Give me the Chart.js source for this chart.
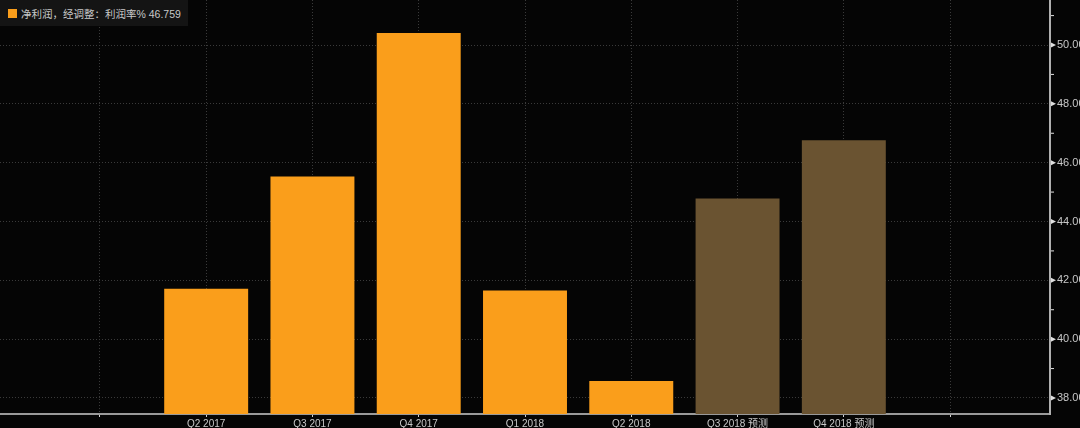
<!DOCTYPE html>
<html>
<head>
<meta charset="utf-8">
<script src="https://cdn.jsdelivr.net/npm/chart.js@4.4.1/dist/chart.umd.min.js"></script>
<style>
  html, body { margin: 0; padding: 0; background: #050505; }
  #wrap { position: relative; width: 1080px; height: 428px; }
  #legendBox {
    position: absolute; left: 0; top: 0; height: 26px; padding: 0 7px 0 8px;
    background: #141414; color: #c8c8c8; font: 10.5px 'Liberation Sans', 'Noto Sans CJK SC', sans-serif;
    display: flex; align-items: center; gap: 4px;
  }
  #legendBox .sw { width: 9px; height: 9px; background: #fa9e1b; display: inline-block; }
</style>
</head>
<body>
<div id="wrap">
  <canvas id="marginChart" width="1080" height="428"></canvas>
  <div id="legendBox"><span class="sw"></span><span id="legendText"></span></div>
</div>
<script>
// 数据
const categories = ['Q2 2017', 'Q3 2017', 'Q4 2017', 'Q1 2018', 'Q2 2018', 'Q3 2018 预测', 'Q4 2018 预测'];
const margins = [41.71, 45.53, 50.41, 41.65, 38.58, 44.78, 46.759];
const isForecast = [false, false, false, false, false, true, true];
const yTicks = [38, 40, 42, 44, 46, 48, 50];
const seriesLabel = '净利润，经调整：利润率%';
const leadingSlots = 2; // 两个空位在第一个季度之前

document.getElementById('legendText').textContent = seriesLabel + ' ' + margins[margins.length - 1];

const fontFamily = "'Liberation Sans', 'Noto Sans CJK SC', sans-serif";

// 右侧刻度的小三角和次刻度
const axisMarks = {
    id: 'axisMarks',
    afterDraw(chart) {
        const ctx = chart.ctx;
        const y = chart.scales.y;
        const x0 = chart.chartArea.right;
        ctx.save();
        ctx.fillStyle = '#e0e0e0';
        y.ticks.forEach(t => {
            const py = y.getPixelForValue(t.value);
            if (yTicks.includes(t.value)) {
                ctx.beginPath();
                ctx.moveTo(x0 + 1, py - 2.5);
                ctx.lineTo(x0 + 6, py);
                ctx.lineTo(x0 + 1, py + 2.5);
                ctx.closePath();
                ctx.fill();
            } else {
                ctx.fillRect(x0 + 1, py - 0.5, 3, 1);
            }
        });
        ctx.restore();
    }
};

new Chart(document.getElementById('marginChart').getContext('2d'), {
    type: 'bar',
    data: {
        datasets: [{
            label: seriesLabel,
            data: categories.map((c, i) => ({ x: i + leadingSlots, y: margins[i] })),
            backgroundColor: ctx => isForecast[ctx.dataIndex] ? '#6a5331' : '#fa9e1b',
            borderWidth: 0,
            barPercentage: 0.79,
            categoryPercentage: 1
        }]
    },
    options: {
        responsive: false,
        animation: false,
        layout: { padding: 0 },
        plugins: {
            legend: { display: false },
            tooltip: { enabled: false }
        },
        scales: {
            x: {
                type: 'linear',
                offset: false,
                min: 0.06,
                max: 9.94,
                afterFit: s => { s.height = 14; s.paddingLeft = 0; s.paddingRight = 0; },
                ticks: {
                    stepSize: 1,
                    includeBounds: false,
                    autoSkip: false,
                    maxRotation: 0,
                    padding: 1,
                    color: '#c8c8c8',
                    font: { family: fontFamily, size: 10 },
                    callback: v => categories[v - leadingSlots] || ''
                },
                grid: {
                    offset: false,
                    color: '#3a3a3a',
                    lineWidth: 1,
                    drawTicks: true,
                    tickLength: 3,
                    tickColor: '#d0d0d0'
                },
                border: { display: true, color: '#9a9a9a', width: 2, dash: [1, 2] }
            },
            y: {
                position: 'right',
                min: 37.455,
                max: 51.53,
                afterFit: s => { s.width = 30; s.paddingTop = 0; s.paddingBottom = 0; },
                ticks: {
                    stepSize: 1,
                    includeBounds: false,
                    padding: 7,
                    color: '#c8c8c8',
                    font: { family: fontFamily, size: 11 },
                    callback: v => yTicks.includes(v) ? v.toFixed(2) : ''
                },
                grid: {
                    color: ctx => yTicks.includes(ctx.tick && ctx.tick.value) ? '#3a3a3a' : 'rgba(0,0,0,0)',
                    lineWidth: 1,
                    drawTicks: false
                },
                border: { display: true, color: '#b0b0b0', width: 2, dash: [1, 2] }
            }
        }
    },
    plugins: [axisMarks]
});
</script>
</body>
</html>
